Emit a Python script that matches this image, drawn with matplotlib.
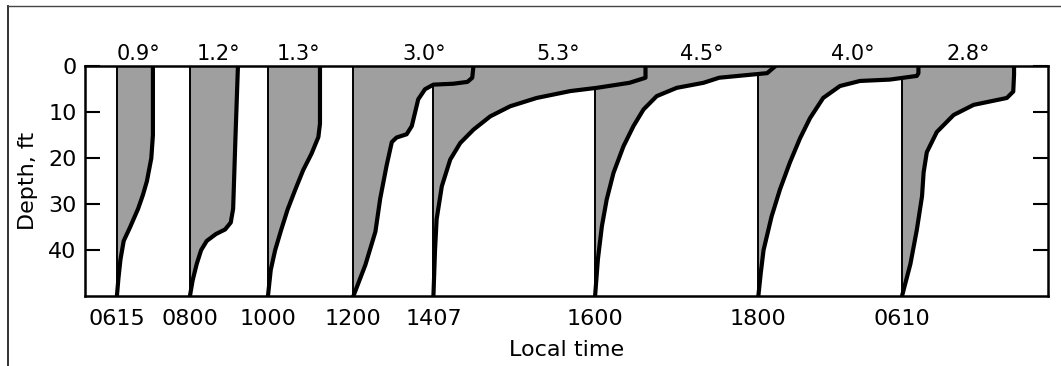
import numpy as np
import matplotlib
matplotlib.use("Agg")
import matplotlib.pyplot as plt
from matplotlib.lines import Line2D

# local time of each sounding and where its zero line sits (degrees along the x scale)
times = ["0615", "0800", "1000", "1200", "1407", "1600", "1800", "0610"]
offsets = [0.8, 2.625, 4.575, 6.71, 8.71, 12.75, 16.83, 20.42]

# temperature excess over the bottom water (deg) against depth (ft)
depth_0615 = [0, 10, 15, 20, 25, 28, 31, 33, 35, 38, 42, 46, 50]
temp_0615 = [0.9, 0.9, 0.9, 0.86, 0.75, 0.65, 0.53, 0.43, 0.33, 0.17, 0.09, 0.04, 0.0]

depth_0800 = [0, 15, 31, 34, 35.5, 36.5, 38, 40, 43, 46.5, 50]
temp_0800 = [1.2, 1.14, 1.08, 1.02, 0.88, 0.65, 0.42, 0.28, 0.17, 0.07, 0.0]

depth_1000 = [0, 12.5, 15.4, 19, 22.6, 26.9, 31.2, 35.6, 40, 44.3, 50]
temp_1000 = [1.3, 1.3, 1.26, 1.09, 0.88, 0.68, 0.49, 0.33, 0.18, 0.07, 0.0]

depth_1200 = [0, 2.5, 3.4, 3.8, 4.0, 5.0, 7.2, 10.1, 13.0, 14.8, 15.5, 16.5, 21.6, 28.8, 36, 43.2, 50]
temp_1200 = [3.0, 2.97, 2.85, 2.5, 2.0, 1.79, 1.62, 1.54, 1.46, 1.33, 1.08, 0.96, 0.83, 0.67, 0.55, 0.3, 0.0]

depth_1407 = [0, 2.5, 3.6, 4.7, 5.4, 6.9, 8.7, 10.9, 13.8, 16.7, 20.3, 26.1, 33.3, 40, 50]
temp_1407 = [5.3, 5.3, 4.9, 4.08, 3.42, 2.58, 1.92, 1.42, 1.0, 0.67, 0.42, 0.21, 0.08, 0.04, 0.0]

depth_1600 = [0, 1.5, 2.0, 2.5, 3.6, 4.7, 6.5, 9.4, 13, 17.4, 23.2, 29, 34.8, 42, 50]
temp_1600 = [4.5, 4.3, 3.7, 3.1, 2.71, 2.04, 1.54, 1.21, 0.96, 0.71, 0.46, 0.29, 0.17, 0.07, 0.0]

depth_1800 = [0, 1.5, 2.1, 2.9, 3.2, 4.3, 6.9, 11.3, 15.7, 20.9, 26.8, 32.7, 40, 45, 50]
temp_1800 = [4.0, 4.0, 3.96, 3.29, 2.54, 2.04, 1.62, 1.29, 1.04, 0.79, 0.54, 0.33, 0.13, 0.06, 0.0]

depth_0610 = [0, 1.8, 5.5, 6.9, 8.4, 10.6, 14.3, 18.7, 23.1, 28.3, 35.6, 43, 50]
temp_0610 = [2.8, 2.8, 2.78, 2.62, 1.79, 1.29, 0.87, 0.62, 0.54, 0.5, 0.37, 0.21, 0.0]

profiles = [
    (depth_0615, temp_0615), (depth_0800, temp_0800), (depth_1000, temp_1000),
    (depth_1200, temp_1200), (depth_1407, temp_1407), (depth_1600, temp_1600),
    (depth_1800, temp_1800), (depth_0610, temp_0610),
]

plt.rcParams['font.family'] = ['DejaVu Sans']
plt.rcParams['font.size'] = 16

fig = plt.figure(figsize=(10.61, 3.66), dpi=100)
ax = fig.add_axes([0.080, 0.191, 0.908, 0.628])

shade = '#9f9f9f'
for x0, (d, t) in zip(offsets, profiles):
    ax.fill_betweenx(d, x0, x0 + np.array(t), color=shade, lw=0)

for i, (x0, (d, t)) in enumerate(zip(offsets, profiles)):
    d = np.array(d)
    x = x0 + np.array(t)
    ax.plot(x, d, color='black', lw=3.0, solid_joinstyle='round', solid_capstyle='round')
    # zero line starts where the previous profile's curve runs across it
    top = 0.0
    if i > 0:
        pd_, pt_ = profiles[i - 1]
        px = offsets[i - 1] + np.array(pt_)
        if px.max() > x0:
            top = np.interp(x0, px[::-1], np.array(pd_)[::-1])
    ax.plot([x0, x0], [top, 50], color='black', lw=1.4)
    # surface excess written above each profile
    tmax = max(t)
    ax.annotate(f"{tmax:.1f}°", xy=(x0 + 0.59 * tmax, 1.0),
                xycoords=('data', 'axes fraction'), xytext=(0, 4.5),
                textcoords='offset points', ha='center', va='baseline', fontsize=15)

ax.set_xlim(0, 24.075)
ax.set_ylim(50, 0)
ax.set_yticks([0, 10, 20, 30, 40])
ax.set_xticks(offsets, times)
ax.tick_params(axis='y', direction='in', length=11, width=1.5, right=True, pad=6)
ax.tick_params(axis='x', length=0, pad=9)
for sp in ax.spines.values():
    sp.set_linewidth(1.8)

ax.set_xlabel("Local time", labelpad=8)
ax.set_ylabel("Depth, ft", labelpad=7)

# page border on the left and top
fx = 8 / 1061
fy = 1 - 6 / 366
fig.add_artist(Line2D([fx, fx], [0, fy], transform=fig.transFigure, color='#222222', lw=1.3))
fig.add_artist(Line2D([fx, 1], [fy, fy], transform=fig.transFigure, color='#444444', lw=1.0))

fig.savefig("out.png", dpi=100)
